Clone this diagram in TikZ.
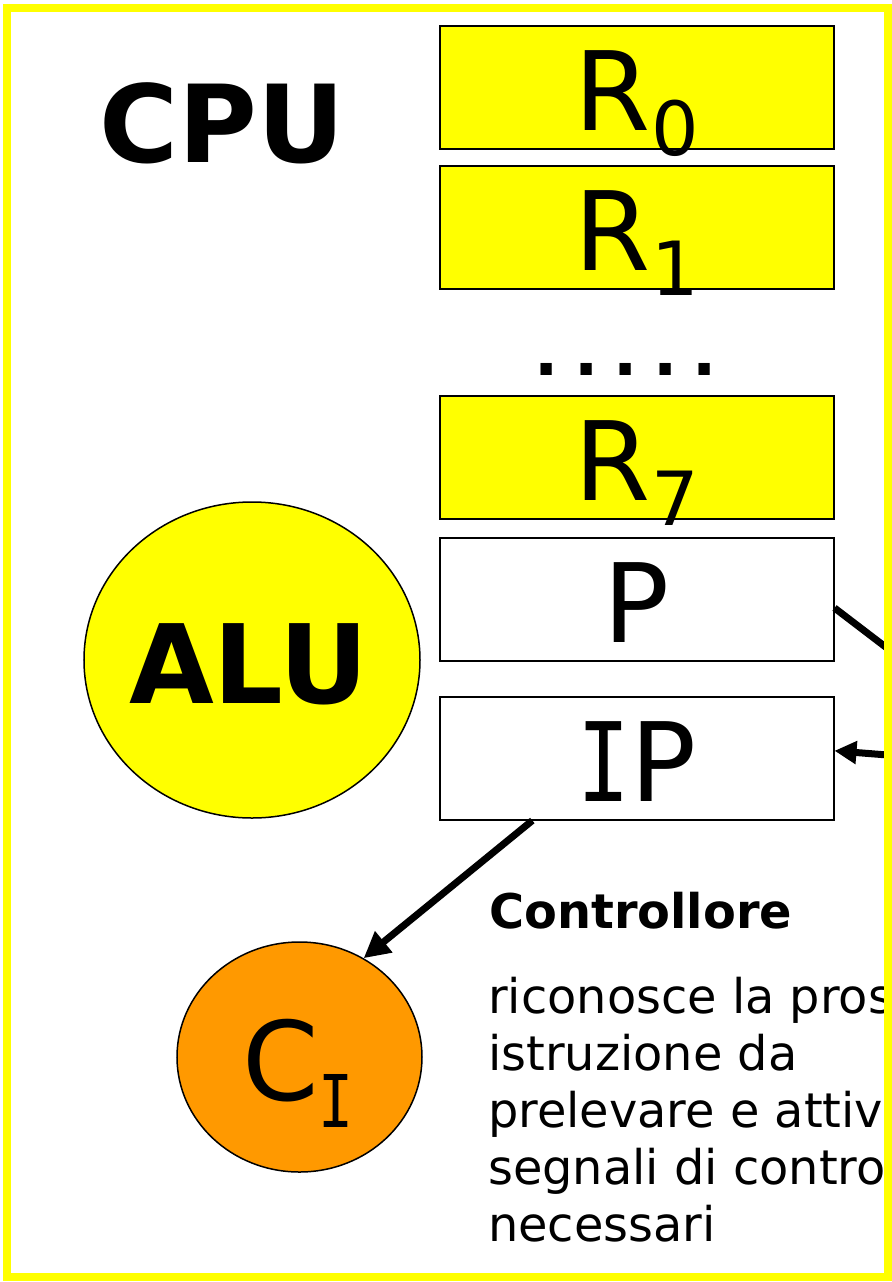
\documentclass[tikz,border=0pt]{standalone}
\usepackage{fontspec}
\setmainfont{DejaVu Sans}
\newfontfamily\serifIfont{DejaVu Sans Mono}
\usetikzlibrary{arrows.meta,calc,shapes.geometric}
\definecolor{slideyellow}{HTML}{FFFF00}
\definecolor{slideorange}{HTML}{FF9900}
\newcommand{\mysub}[2]{\raisebox{-#1bp}{\fontsize{75}{75}\selectfont #2}}
\newcommand{\serifI}{\scalebox{0.8}[1]{\serifIfont I}}
\begin{document}
\begin{tikzpicture}[x=1bp,y=-1bp,
  regbox/.style={draw=black,line width=1.5bp,minimum width=394bp,minimum height=123bp,
    inner sep=0pt,anchor=north west,text height=105bp,text depth=18bp,
    font=\fontsize{110}{110}\selectfont},
  blob/.style={draw=black,line width=1.5bp,ellipse,inner sep=0pt},
  bigtext/.style={anchor=base,inner sep=0pt,font=\fontsize{110}{110}\selectfont},
  bodytext/.style={anchor=base west,inner sep=0pt,font=\fontsize{48}{57}\selectfont},
  wire/.style={draw=black,line width=7bp}
]
\useasboundingbox (0,0) rectangle (892,1282);
\fill[white] (0,0) rectangle (892,1282);
\clip (0,0) rectangle (892,1282);

% title
\node[bigtext,font=\bfseries\fontsize{108}{108}\selectfont] (cpu) at (222,162) {CPU};

% registers
\node[regbox,fill=slideyellow] (R0) at (439,25) {R\mysub{25}{0}};
\node[regbox,fill=slideyellow] (R1) at (439,165) {R\mysub{25}{1}};
\node[anchor=base,inner sep=0pt,font=\bfseries\fontsize{64}{64}\selectfont] (dots) at (626,375)
  {\makebox[39.5bp]{.}\makebox[39.5bp]{.}\makebox[39.5bp]{.}\makebox[39.5bp]{.}\makebox[39.5bp]{.}};
\node[regbox,fill=slideyellow] (R7) at (439,395) {R\mysub{25}{7}};
\node[regbox,fill=white] (P) at (439,537) {P};
\node[regbox,fill=white] (IP) at (439,696) {\serifI P};

% ALU
\node[blob,fill=slideyellow,minimum width=336bp,minimum height=316bp] (ALU) at (252,660) {};
\node[bigtext,font=\bfseries\fontsize{110}{110}\selectfont] (ALUt) at (249,703) {ALU};

% controller
\node[blob,fill=slideorange,minimum width=245bp,minimum height=230bp] (CI) at (299.5,1057) {};
\node[bigtext] (CIt) at (298,1100) {C\raisebox{-27bp}{\fontsize{73}{73}\selectfont\serifI}};

% connectors
\coordinate (mP) at (900,658);
\coordinate (mIP) at (900,756);
\draw[wire] ($(P.north east)!0.57!(P.south east)$) -- (mP);
\draw[wire,-{Triangle[length=22bp,width=22bp]}] (mIP) -- ($(IP.north east)!0.44!(IP.south east)$);
\draw[wire,-{Triangle[length=26bp,width=26bp]}] ($(IP.south west)!0.236!(IP.south east)$) -- (CI.57);

% text
\node[bodytext,font=\bfseries\fontsize{48}{57}\selectfont] (ctl) at (489,928) {Controllore};
\node[bodytext] (t1) at (488,1013) {riconosce la prossima};
\node[bodytext] (t2) at (488,1070) {istruzione da};
\node[bodytext] (t3) at (488,1127) {prelevare e attiva i};
\node[bodytext] (t4) at (488,1184) {segnali di controllo};
\node[bodytext] (t5) at (488,1241) {necessari};

% frame
\draw[slideyellow,line width=8bp] (7,7.5) rectangle (887.5,1277);
\end{tikzpicture}
\end{document}
